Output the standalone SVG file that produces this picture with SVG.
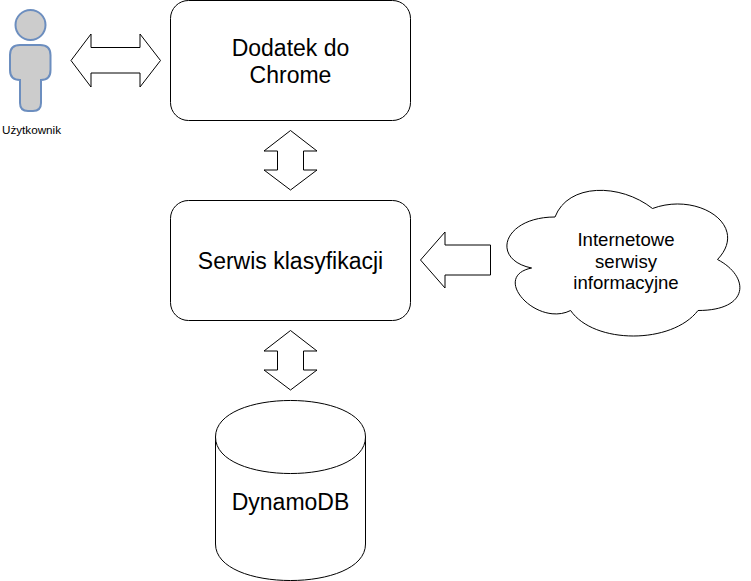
<svg xmlns="http://www.w3.org/2000/svg" width="751" height="581" viewBox="0 0 751 581">
<style>
text{font-family:"Liberation Sans",Arial,sans-serif;fill:#000;text-anchor:middle}
.s{fill:#fff;stroke:#000;stroke-width:1}
.l{font-size:23px}
.m{font-size:18.600px}
.p{fill:#ccc;stroke:#6c8ebf;stroke-width:2}
</style>
<rect width="751" height="581" fill="#fff"/>
<g id="user">
<circle class="p" cx="30.500" cy="25" r="15"/>
<path class="p" d="M20 45H40Q50.500 45 50.500 55V70Q50.500 80 41 80V103Q41 111 33 111H28Q20 111 20 103V80Q10 80 10 70V55Q10 45 20 45Z"/>
<text x="31.500" y="134" font-size="11.700">Użytkownik</text>
</g>
<g id="connectors">
<path class="s" d="M71 60.500L91 34V47.500H140V34L160.500 60.500L140 87V73H91V87Z"/>
<path class="s" d="M290.500 130.500L317 151H303.500V170H317L290.500 190L264 170H277.500V151H264Z"/>
<path class="s" d="M290.500 330.500L317 351H303.500V370H317L290.500 390L264 370H277.500V351H264Z"/>
<path class="s" d="M420.500 260L445 232V245H490.500V275H445V288Z"/>
</g>
<g id="chrome">
<rect class="s" x="170.500" y="0.500" width="240" height="120" rx="18" ry="18"/>
<text class="l" x="290.500" y="56">Dodatek do</text>
<text class="l" x="290.500" y="83">Chrome</text>
</g>
<g id="service">
<rect class="s" x="170.500" y="200.500" width="240" height="120" rx="18" ry="18"/>
<text class="l" x="290.500" y="269">Serwis klasyfikacji</text>
</g>
<g id="cloud">
<path class="s" d="M555 217C503 217 490 259.500 531.600 268C490 276.500 536.800 327.500 570.600 310.500C594 344.500 672 344.500 698 310.500C750 310.500 750 276.500 717.500 259.500C750 225.500 698 191.500 652.500 208.500C620 183 568 183 555 217Z"/>
<text class="m" x="626" y="246">Internetowe</text>
<text class="m" x="626" y="267.500">serwisy</text>
<text class="m" x="626" y="289">informacyjne</text>
</g>
<g id="db">
<path class="s" d="M215.500 437C215.500 388.300 365.500 388.300 365.500 437V544C365.500 592.700 215.500 592.700 215.500 544Z"/>
<path class="s" fill="none" d="M215.500 437C215.500 485.700 365.500 485.700 365.500 437"/>
<text class="l" x="290.500" y="510">DynamoDB</text>
</g>
</svg>
